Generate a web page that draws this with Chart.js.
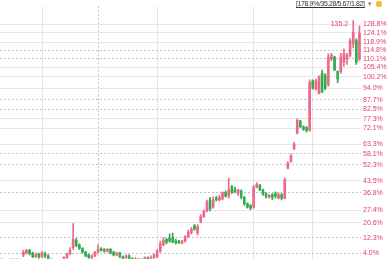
<!DOCTYPE html>
<html>
<head>
<meta charset="utf-8">
<script src="https://cdn.jsdelivr.net/npm/chart.js@4.4.1/dist/chart.umd.min.js"></script>
<style>
    html, body { margin: 0; padding: 0; background: #fff; }
    #wrap { position: relative; width: 392px; height: 265px; overflow: hidden; }
    #head {
        position: absolute; top: 0; left: 296px;
        font: 7px "Liberation Sans", Arial, sans-serif; color: #333; white-space: nowrap;
    }
    #head u { letter-spacing: -0.4px; }
    #head .arr { color: #888; margin-left: 2px; font-size: 6px; }
    #head .ico { display: inline-block; width: 6px; height: 6px; background: #f2c230; border-radius: 2px; margin-left: 3px; vertical-align: -1px; }
</style>
</head>
<body>
<div id="wrap">
    <canvas id="kline" width="392" height="265"></canvas>
    <div id="head"><u>[178.9%/35.28/5.67/1.82]</u><span class="arr">▼</span><span class="ico"></span></div>
</div>
<script>
// candle data, percent change vs. base
const opens = [-3, -2.5, -3.5, -2, -1.5, -1, -0.5,
    3, 4, 5.5, 4, 2, 3.5, 2, 4, 2.5, 0.5, -1, 0, -1, 0, 1.5, 3.5, 7, 11, 8.5, 6.5, 4.5, 3, 1.5, 2.5, 4.5, 6.5,
    6, 5, 6, 4.5, 3, 4, 2, 1.5, 2.5, 1, 0, 0.8, -0.5, 0.5, 1.5, 0.5, 1.5, 2, 5, 8.5, 11.5, 12, 12.5, 10.5,
    10.5, 9.5, 10.5, 13, 15, 19, 15, 21, 24, 27, 33, 29, 34, 33, 33.5, 37, 35.5, 40, 38.5, 36.5, 38, 34.5,
    31, 30, 29, 40, 41, 38.5, 36.5, 34.5, 36, 36.5, 34, 36, 34, 50.3, 54, 61, 69.5, 76, 73, 72.5, 71, 98,
    93.5, 91, 102, 101, 96, 110, 111, 103, 103, 108, 110, 112, 118, 120, 110];
const highs = [-2, -2, -1.5, -1, -0.5, 0, 0.8,
    5.5, 6, 6, 4.5, 4, 4, 5, 4.5, 3, 1, 0.5, 0.5, 0.5, 2, 4, 7, 20.1, 12, 9, 7, 5, 3.5, 3, 5, 8.5, 7,
    6.5, 6.5, 6.5, 5, 4.5, 4.5, 2.5, 3, 3, 1.5, 1.5, 1.2, 1, 2, 2, 2.5, 3.5, 6, 10.5, 12.5, 12, 14.5, 14.9, 11.5,
    11, 11, 13.5, 16.5, 18, 19.5, 19.5, 25, 27.5, 33, 34.5, 34.7, 35, 35.5, 37.5, 38, 45, 41, 40, 39, 38.5, 35,
    31.5, 30.5, 41, 42.5, 41.5, 39, 37, 36, 36.5, 37.5, 37, 36.5, 45, 54, 58, 64.5, 77.3, 76.5, 73.5, 73, 98.6, 98.6,
    99, 100.7, 103.8, 102, 112.7, 113, 111.5, 103.5, 113, 115.3, 113, 121, 130.9, 121, 128];
const lows = [-3.5, -4, -4, -2.5, -2, -1.5, -1,
    2, 3.5, 3, 1.5, 1.5, 1, 1.5, 1.5, 0, -1, -1.5, -2, -1.5, -0.5, 1, 3, 6, 7.5, 6, 4, 2, 1, 0.5, 2, 4, 5,
    4.5, 4.5, 3.5, 2.5, 2.5, 1.5, 0.3, 0.5, 0, -1, -0.5, -1, -1, 0, 0, 0, 1, 1.5, 4.5, 8, 9, 10, 9.5, 9,
    9.2, 9, 10, 12.5, 14.5, 16.5, 13.9, 20.5, 23.5, 26.5, 27, 28.5, 32.5, 32.5, 33, 34.5, 34, 36.5, 37, 35.5, 33.5, 30,
    28.5, 27.5, 28.5, 39.5, 38, 35.5, 34, 34, 33, 34, 33.5, 33, 33.5, 50, 53.5, 60.5, 69, 72.5, 71, 70, 70.5, 93.5,
    93, 90.8, 91.5, 93, 95, 109, 103.5, 97, 102, 106, 107, 111, 116, 107, 109];
const closes = [-2.5, -3.5, -2, -1.5, -1, -0.5, 0.5,
    4.5, 5.5, 3.5, 2, 3.5, 2, 4, 2.5, 0.5, -0.5, 0, -1, 0.3, 1.5, 3.5, 5.5, 11.5, 8, 6.5, 4.5, 2.5, 1.5, 2.5, 4.5, 6, 5.5,
    5, 6, 4, 3, 4, 2, 1, 2.5, 1, 0, 1, -0.5, 0.5, 1.5, 0.5, 1.5, 3, 5, 9, 11, 10, 10.5, 10, 9.5,
    9.7, 10.5, 13, 15.5, 17, 17, 18.5, 24, 27, 32, 28, 33, 33, 34.5, 37, 35, 38.5, 37, 37.5, 38.5, 34.5, 31,
    29, 28.5, 40, 41.5, 38.5, 36, 35, 35.5, 34.5, 35, 36, 34, 44, 53, 57, 63.5, 76.5, 73, 71.5, 71, 97, 94,
    98, 100, 92, 94, 111, 112, 104, 99, 111, 113, 112, 120, 124.5, 108, 124];

// right-hand level ticks
const levelValues = [128.8, 124.1, 118.9, 114.8, 110.1, 105.4, 100.2, 94.0, 87.7, 82.5, 77.3, 72.1, 63.3,
    58.1, 52.3, 43.5, 36.8, 27.4, 20.6, 12.3, 4.0];
const levelLabels = ['128.8%', '124.1%', '118.9%', '114.8%', '110.1%', '105.4%', '100.2%', '94.0%', '87.7%',
    '82.5%', '77.3%', '72.1%', '63.3%', '58.1%', '52.3%', '43.5%', '36.8%', '27.4%', '20.6%', '12.3%', '4.0%'];
const dashedLevels = [3, 4, 8, 9, 13, 14, 16, 19, 20];
const monthStarts = [13, 31, 50, 81, 100];
const maxLabel = '135.2';

const days = opens.map((_, i) => String(i + 1));
const RED = '#ec6a88';
const GREEN = '#34ac4e';
const candleColor = opens.map((o, i) => (closes[i] >= o ? RED : GREEN));

const maxMarker = {
    id: 'maxMarker',
    afterDatasetsDraw(chart) {
        const { ctx, scales } = chart;
        let idx = 0;
        highs.forEach((h, i) => { if (h > highs[idx]) idx = i; });
        const x = scales.x.getPixelForValue(idx);
        const y = scales.y.getPixelForValue(highs[idx]);
        ctx.save();
        ctx.fillStyle = '#e0406a';
        ctx.font = '7px "Liberation Sans", Arial, sans-serif';
        ctx.textAlign = 'right';
        ctx.textBaseline = 'middle';
        ctx.fillText(maxLabel, x - 5, y + 4);
        ctx.restore();
    },
};

new Chart(document.getElementById('kline'), {
    type: 'bar',
    data: {
        labels: days,
        datasets: [
            {
                label: 'wick',
                data: lows.map((l, i) => [l, highs[i]]),
                backgroundColor: candleColor,
                barThickness: 1,
                grouped: false,
            },
            {
                label: 'body',
                data: opens.map((o, i) => [o, closes[i]]),
                backgroundColor: candleColor,
                barThickness: 2,
                grouped: false,
                minBarLength: 1,
            },
        ],
    },
    options: {
        responsive: false,
        animation: false,
        layout: { padding: 0 },
        plugins: { legend: { display: false }, tooltip: { enabled: false } },
        scales: {
            x: {
                offset: true,
                grid: {
                    offset: false,
                    drawTicks: false,
                    color: (c) => (monthStarts.includes(c.index) ? (c.index === 31 ? '#c4c4c4' : '#e4e4e4') : 'transparent'),
                },
                border: { display: false, dash: (c) => (c.index === 31 ? [2, 2] : []) },
                ticks: { display: false },
            },
            y: {
                position: 'right',
                min: 0.9,
                max: 138.7,
                afterBuildTicks: (scale) => { scale.ticks = levelValues.map((v) => ({ value: v })); },
                afterFit: (scale) => { scale.width = 31; },
                grid: {
                    drawTicks: false,
                    color: (c) => (dashedLevels.includes(c.index) ? '#c2c2c2' : '#e6e6e6'),
                },
                border: { display: false, dash: (c) => (dashedLevels.includes(c.index) ? [2, 2] : []) },
                ticks: {
                    padding: 2,
                    color: '#e0406a',
                    font: { size: 7, family: '"Liberation Sans", Arial, sans-serif' },
                    callback: (v, i) => levelLabels[i],
                },
            },
        },
    },
    plugins: [maxMarker],
});
</script>
</body>
</html>
